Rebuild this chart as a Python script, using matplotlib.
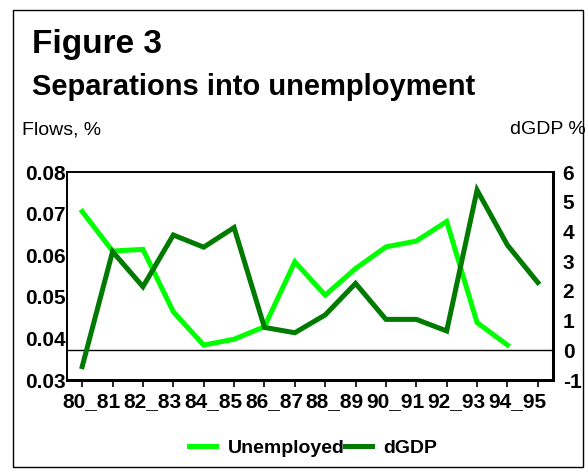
import matplotlib
matplotlib.use("Agg")
import matplotlib.pyplot as plt
import numpy as np
from matplotlib.patches import Rectangle

plt.rcParams['font.family'] = ['Liberation Sans', 'DejaVu Sans']

years = list(range(1980, 1996))
tick_labels = ["80_81", "82_83", "84_85", "86_87", "88_89", "90_91", "92_93", "94_95"]
unemployed = [0.0705, 0.0610, 0.0614, 0.0464, 0.0384, 0.0398, 0.0428, 0.0584,
              0.0504, 0.0568, 0.0620, 0.0634, 0.0681, 0.0438, 0.0384, np.nan]
dgdp = [-0.55, 3.32, 2.14, 3.88, 3.47, 4.13, 0.77, 0.59,
        1.19, 2.25, 1.04, 1.04, 0.65, 5.39, 3.54, 2.28]

W, H = 588, 476
fig = plt.figure(figsize=(W / 100, H / 100), dpi=100)
fig.patch.set_facecolor('white')

fig.text(32 / W, 1 - 45 / H, "Figure 3", fontsize=24, fontweight='bold', va='center', ha='left')
fig.text(32 / W, 1 - 87 / H, "Separations into unemployment", fontsize=21, fontweight='bold',
         va='center', ha='left')
fig.text(22 / W, 1 - 130 / H, "Flows, %", fontsize=14, va='center', ha='left')
fig.text(510 / W, 1 - 130 / H, "dGDP %", fontsize=14, va='center', ha='left')

# outer frame
fig.add_artist(Rectangle((13 / W, 1 - 467 / H), (583 - 13) / W, (467 - 10) / H,
                         transform=fig.transFigure, fill=False, edgecolor='black', lw=1.0,
                         zorder=10))

ax = fig.add_axes([67 / W, 1 - 380 / H, (553 - 67) / W, (380 - 172) / H])
ax2 = ax.twinx()

x = np.arange(len(years))
l1, = ax.plot(x, unemployed, color='#00FF00', lw=3.6, solid_joinstyle='miter', label='Unemployed')
ax2.axhline(0, color='black', lw=1.0)
l2, = ax2.plot(x, dgdp, color='#007A00', lw=3.6, solid_joinstyle='miter', label='dGDP')

ax.set_xlim(-0.5, len(years) - 0.5)
ax.set_ylim(0.03, 0.08)
ax2.set_ylim(-1, 6)

ax.set_yticks([0.03, 0.04, 0.05, 0.06, 0.07, 0.08])
ax.set_yticklabels(["0.03", "0.04", "0.05", "0.06", "0.07", "0.08"], fontsize=15, fontweight='bold')
ax.tick_params(axis='y', length=0, pad=1)
ax2.set_yticks(range(-1, 7))
ax2.set_yticklabels([str(v) for v in range(-1, 7)], fontsize=15, fontweight='bold')
ax2.tick_params(axis='y', length=0, pad=7)

ax.set_xticks(x)
ax.set_xticklabels([""] * len(x))
ax.tick_params(axis='x', which='major', direction='out', length=5, width=1.2, color='black')
ax.set_xticks(np.arange(0, len(years), 2) + 0.32, minor=True)
ax.set_xticklabels(tick_labels, minor=True, fontsize=15, fontweight='bold')
ax.tick_params(axis='x', which='minor', length=0, pad=9)

for sp in ['left', 'top']:
    ax.spines[sp].set_linewidth(1.2)
ax.spines['bottom'].set_linewidth(2.0)
ax2.spines['right'].set_linewidth(2.2)
ax2.spines['bottom'].set_linewidth(2.0)
ax2.spines['left'].set_linewidth(1.2)
ax2.spines['top'].set_linewidth(1.2)

fig.legend(handles=[l1, l2], loc='center', bbox_to_anchor=(313 / W, 1 - 448 / H), ncol=2,
           frameon=False, prop={'weight': 'bold', 'size': 14}, handlelength=1.4,
           columnspacing=0.0, handletextpad=0.6)

fig.savefig("out.png", dpi=100, facecolor='white')
